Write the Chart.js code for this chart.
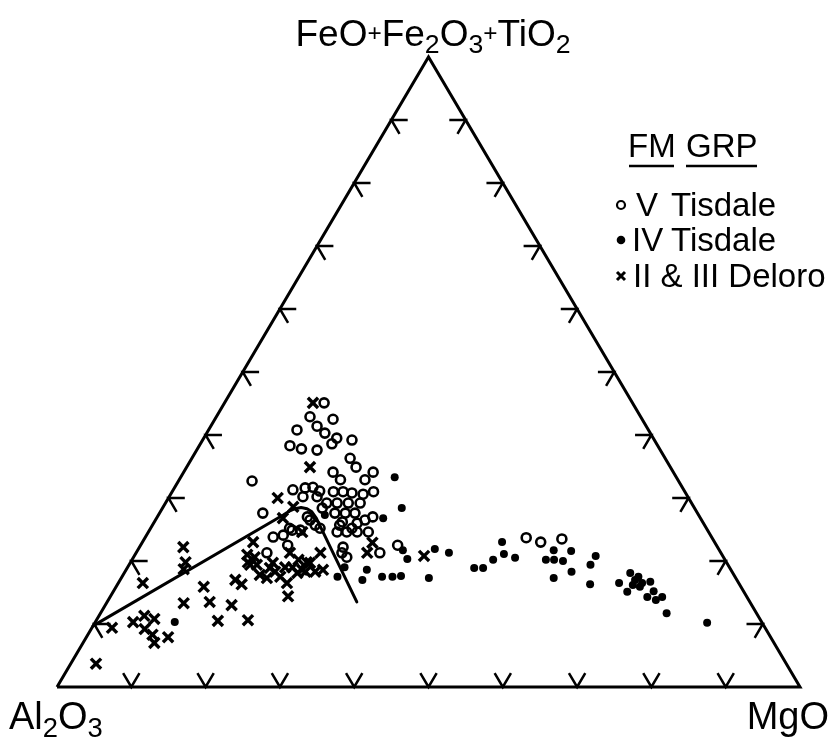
<!DOCTYPE html>
<html>
<head>
<meta charset="utf-8">
<script src="https://cdn.jsdelivr.net/npm/chart.js@4.4.1/dist/chart.umd.min.js"></script>
<style>
  html,body{margin:0;padding:0;background:#fff;}
  #c{display:block;}
</style>
</head>
<body>
<canvas id="c" width="834" height="738"></canvas>
<script>
// Ternary data: each point is [FeO+Fe2O3+TiO2 %, MgO %]; Al2O3 = 100 - both
const tisdaleV = [
  [45.1,13.4],[42.9,12.6],[42.5,15.9],[41.4,14.3],[40.8,11.9],[40.3,15.9],[39.5,17.9],[38.6,17.7],
  [39.2,20.1],[38.3,12.2],[37.8,14.0],[37.6,16.2],[36.3,21.3],[34.9,22.8],[34.1,20.1],[32.9,21.7],
  [34.1,25.5],[32.9,25.0],[31.3,16.1],[31.6,17.6],[31.1,19.8],[31.0,21.7],[31.0,23.0],[30.8,24.3],
  [30.6,25.9],[31.0,27.1],[32.7,9.9],[30.2,18.0],[30.2,19.9],[31.7,18.6],[27.6,13.9],[26.5,20.8],
  [24.9,19.2],[29.2,21.7],[29.2,23.1],[29.2,24.6],[29.2,26.2],[28.4,21.5],[27.6,23.6],[27.6,25.0],
  [27.6,26.3],[27.0,29.0],[26.5,28.2],[26.2,25.3],[26.0,27.4],[24.6,26.7],[24.6,28.1],[24.6,29.6],
  [27.0,20.2],[25.2,18.7],[23.8,17.2],[24.1,18.4],[21.3,17.6],[25.7,21.9],[25.7,25.2],[22.2,27.4],
  [20.6,28.7],[21.3,32.8],[22.5,34.6],[25.2,22.8],[24.9,20.3],[24.6,25.4],[25.2,27.1],[21.3,27.7],
  [22.5,19.8],[23.7,51.3],[23.0,53.6],[23.5,56.2]
];
const tisdaleIV = [
  [33.3,28.8],[28.4,32.2],[26.8,30.5],[27.3,22.4],[21.7,35.7],[20.3,37.0],[17.6,37.5],[18.6,32.4],
  [17.0,32.6],[17.5,35.0],[17.5,36.4],[19.0,29.2],[17.5,29.0],[10.3,10.7],[21.9,39.9],[21.3,42.1],
  [17.3,41.4],[18.9,46.7],[18.9,47.9],[20.2,48.6],[21.1,49.6],[23.0,48.4],[20.5,51.4],[20.2,55.7],
  [20.2,56.8],[20.0,58.1],[21.7,56.0],[21.6,58.4],[18.3,60.1],[17.3,58.2],[19.4,62.1],[16.3,63.6],
  [20.8,62.1],[18.1,68.1],[17.5,69.5],[17.0,69.3],[16.5,70.5],[16.7,71.5],[16.2,69.4],[15.9,70.5],
  [16.5,67.4],[15.1,69.2],[15.2,72.7],[14.3,72.3],[13.8,73.7],[14.3,74.3],[11.7,76.2],[10.2,82.4]
];
const deloro = [
  [45.1,11.9],[34.9,16.6],[30.0,14.7],[28.6,17.5],[26.8,17.0],[23.0,14.9],[21.0,15.1],[19.4,17.2],
  [17.3,19.6],[16.5,22.7],[14.4,23.9],[16.3,16.7],[24.6,20.7],[21.3,24.8],[21.3,31.1],[22.9,31.0],
  [20.2,22.4],[19.8,23.7],[18.3,25.6],[18.6,26.5],[18.6,23.7],[18.3,20.2],[17.8,18.4],[21.3,20.7],
  [19.7,19.2],[19.4,16.3],[20.6,16.3],[19.8,15.8],[17.5,21.3],[18.9,19.2],[19.0,21.2],[19.0,22.2],
  [19.7,24.2],[18.3,24.3],[18.1,23.3],[22.2,5.9],[19.8,7.4],[18.7,7.7],[16.5,3.3],[15.9,11.8],
  [13.3,10.4],[13.5,13.8],[13.0,17.0],[17.0,15.5],[10.6,20.4],[10.3,5.1],[11.3,6.1],[10.8,7.7],
  [9.2,7.2],[8.3,8.7],[7.0,9.6],[7.9,11.0],[9.4,2.7],[3.7,3.4],[20.8,39.0],[10.5,16.4]
];
// boundary line (tholeiitic / calc-alkaline divider)
const boundary = [
  [9.7,0.0],[27.3,16.8],[27.9,17.3],[28.3,17.9],[28.5,18.6],[28.3,19.5],[27.8,20.4],[26.8,21.5],
  [25.7,22.5],[13.5,33.6]
];
const tickPercents = [10,20,30,40,50,60,70,80,90];
const tickArm = 2.2; // percent
const seriesLabels = ['V','IV','II & III'];
const groupLabels = ['Tisdale','Tisdale','Deloro'];

// ternary [FM, MgO] -> cartesian data space
function toXY(p){ return {x: p[1] + p[0]/2, y: p[0]}; }

const datasets = [];
datasets.push({
  data: [[0,0],[0,100],[100,0],[0,0]].map(toXY),
  showLine: true, borderColor:'#000', borderWidth:3, pointRadius:0,
  borderJoinStyle:'miter', order:10, clip:false
});
tickPercents.forEach(t=>{
  const sets = [
    [[t,tickArm],[t,0],[t-tickArm,tickArm]],
    [[t,100-t-tickArm],[t,100-t],[t-tickArm,100-t]],
    [[tickArm,t],[0,t],[tickArm,t-tickArm]]
  ];
  sets.forEach(s=>datasets.push({
    data: s.map(toXY), showLine:true, borderColor:'#000', borderWidth:2.5,
    pointRadius:0, order:9, clip:false, borderJoinStyle:'miter'
  }));
});
datasets.push({
  data: boundary.map(toXY), showLine:true, borderColor:'#000', borderWidth:3,
  pointRadius:0, order:8, clip:false, borderJoinStyle:'round', borderCapStyle:'round'
});
datasets.push({label:'V Tisdale', data: tisdaleV.map(toXY), pointStyle:'circle',
  pointRadius:4.5, pointBorderWidth:2.6, pointBorderColor:'#000', pointBackgroundColor:'rgba(0,0,0,0)', order:2, clip:false});
datasets.push({label:'IV Tisdale', data: tisdaleIV.map(toXY), pointStyle:'circle',
  pointRadius:4, pointBorderWidth:0, pointBorderColor:'#000', pointBackgroundColor:'#000', order:1, clip:false});
datasets.push({label:'II & III Deloro', data: deloro.map(toXY), pointStyle:'crossRot',
  pointRadius:7.2, pointBorderWidth:3.4, pointBorderColor:'#000', pointBackgroundColor:'#000', order:0, clip:false});

const FONT = '"Liberation Sans", Arial, Helvetica, sans-serif';

function drawRich(ctx, parts, x, y, size, align){
  let w = 0;
  parts.forEach(p=>{ ctx.font = (size*(p.s||1))+'px '+FONT; p.w = ctx.measureText(p.t).width; w += p.w; });
  let cx = align==='center' ? x - w/2 : (align==='right' ? x - w : x);
  ctx.textAlign='left'; ctx.textBaseline='alphabetic';
  parts.forEach(p=>{ ctx.font = (size*(p.s||1))+'px '+FONT; ctx.fillText(p.t, cx, y + (p.dy||0)*size); cx += p.w; });
}

const labelPlugin = {
  id:'labels',
  afterDraw(chart){
    const ctx = chart.ctx;
    ctx.save();
    ctx.fillStyle='#000';
    const sub = {s:0.72, dy:0.2};
    const plus = {t:'+', s:0.66, dy:-0.13};
    drawRich(ctx, [{t:'FeO'}, plus, {t:'Fe'}, Object.assign({t:'2'},sub), {t:'O'}, Object.assign({t:'3'},sub), plus, {t:'TiO'}, Object.assign({t:'2'},sub)], 433, 46, 37, 'center');
    drawRich(ctx, [{t:'Al'}, Object.assign({t:'2'},sub), {t:'O'}, Object.assign({t:'3'},sub)], 9, 729, 38, 'left');
    drawRich(ctx, [{t:'MgO'}], 829, 729, 38, 'right');

    // legend
    const ls = 33;
    ctx.font = ls+'px '+FONT;
    ctx.fillText('FM', 628, 157);
    ctx.fillText('GRP', 686, 157);
    ctx.lineWidth = 2.4; ctx.strokeStyle='#000';
    ctx.beginPath(); ctx.moveTo(629,166); ctx.lineTo(674,166); ctx.moveTo(686,166); ctx.lineTo(757,166); ctx.stroke();
    const rows = [216, 251, 287];
    ctx.lineWidth = 2.2;
    ctx.beginPath(); ctx.arc(621, rows[0]-11, 4, 0, Math.PI*2); ctx.stroke();
    ctx.beginPath(); ctx.arc(621, rows[1]-11, 4.3, 0, Math.PI*2); ctx.fill();
    ctx.lineWidth = 3;
    ctx.beginPath(); const cx=621, cy=rows[2]-11, r=4;
    ctx.moveTo(cx-r,cy-r); ctx.lineTo(cx+r,cy+r); ctx.moveTo(cx+r,cy-r); ctx.lineTo(cx-r,cy+r); ctx.stroke();
    ctx.font = ls+'px '+FONT;
    ctx.fillText(seriesLabels[0], 636, rows[0]);
    ctx.fillText(groupLabels[0], 671, rows[0]);
    ctx.fillText(seriesLabels[1], 632, rows[1]);
    ctx.fillText(groupLabels[1], 671, rows[1]);
    ctx.fillText(seriesLabels[2] + ' ' + groupLabels[2], 633, rows[2]);
    ctx.restore();
  }
};

new Chart(document.getElementById('c'), {
  type:'scatter',
  data:{datasets},
  options:{
    responsive:false, animation:false, devicePixelRatio:1,
    layout:{padding:{left:57,right:34,top:57,bottom:51}},
    plugins:{legend:{display:false}, tooltip:{enabled:false}},
    scales:{
      x:{type:'linear', min:0, max:100, display:false},
      y:{type:'linear', min:0, max:100, display:false}
    }
  },
  plugins:[labelPlugin]
});
</script>
</body>
</html>
